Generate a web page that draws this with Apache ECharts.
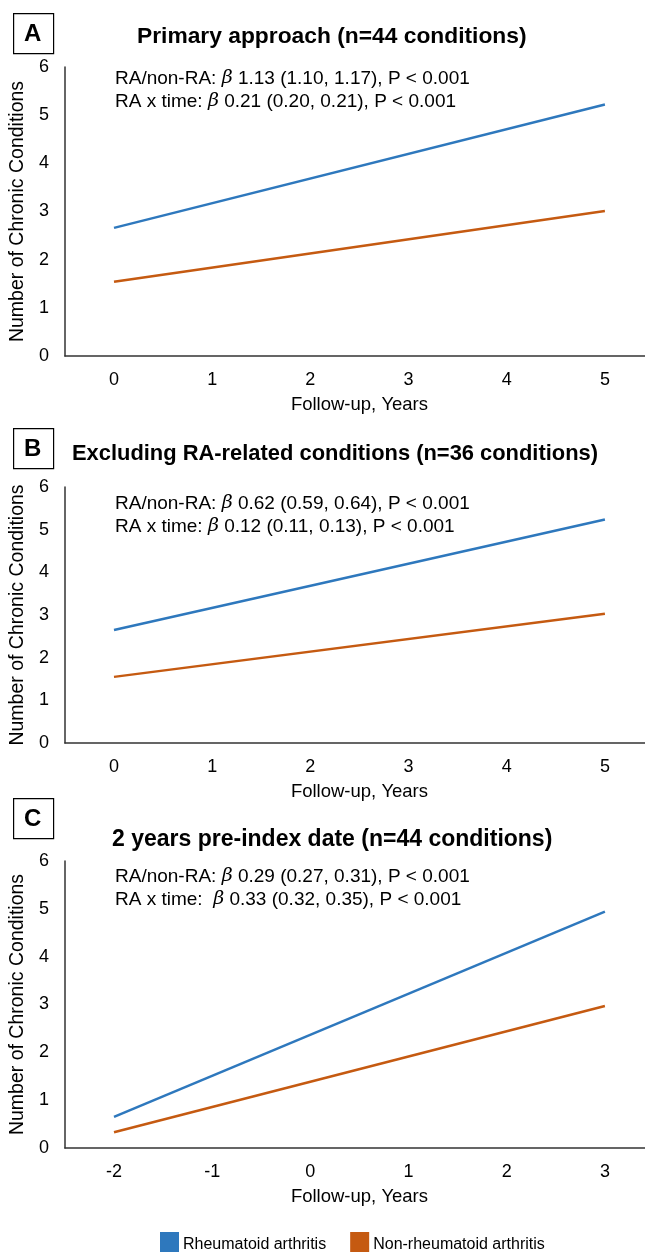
<!DOCTYPE html>
<html>
<head>
<meta charset="utf-8">
<script src="https://cdn.jsdelivr.net/npm/echarts@6/dist/echarts.min.js"></script>
<style>
  html, body { margin: 0; padding: 0; background: #fff; overflow: hidden; }
  #chart { width: 654px; height: 1252px; }
</style>
</head>
<body>
<div id="chart"></div>
<script>
// categories
var yearsAB = ['0', '1', '2', '3', '4', '5'];
var yearsC = ['-2', '-1', '0', '1', '2', '3'];

// predicted values (straight lines, endpoints)
var raA = [2.66, null, null, null, null, 5.22];
var nonA = [1.54, null, null, null, null, 3.01];
var raB = [2.65, null, null, null, null, 5.24];
var nonB = [1.55, null, null, null, null, 3.03];
var raC = [0.65, null, null, null, null, 4.94];
var nonC = [0.33, null, null, null, null, 2.97];

var panelTitles = [
  'Primary approach (n=44 conditions)',
  'Excluding RA-related conditions (n=36 conditions)',
  '2 years pre-index date (n=44 conditions)'
];
var notes = [
  'RA/non-RA: {b|β} 1.13 (1.10, 1.17), P < 0.001\nRA x time: {b|β} 0.21 (0.20, 0.21), P < 0.001',
  'RA/non-RA: {b|β} 0.62 (0.59, 0.64), P < 0.001\nRA x time: {b|β} 0.12 (0.11, 0.13), P < 0.001',
  'RA/non-RA: {b|β} 0.29 (0.27, 0.31), P < 0.001\nRA x time:  {b|β} 0.33 (0.32, 0.35), P < 0.001'
];

var FONT = '"Liberation Sans", Arial, sans-serif';
var BLUE = '#2E78BD';
var ORANGE = '#C55A11';

var grids = [
  {left: 63, right: 0, top: 67, height: 289},
  {left: 63, right: 0, top: 487, height: 256},
  {left: 63, right: 0, top: 861, height: 287}
];

function xAxisFor(idx, cats) {
  return {
    type: 'category', gridIndex: idx, data: cats,
    name: 'Follow-up, Years', nameLocation: 'middle', nameGap: 39,
    nameTextStyle: {color: '#000', fontSize: 18.5, fontFamily: FONT},
    axisLine: {lineStyle: {color: '#333', width: 1.5}},
    axisTick: {show: false},
    axisLabel: {color: '#000', fontSize: 18, fontFamily: FONT, margin: 15},
    splitLine: {show: false}
  };
}
function yAxisFor(idx) {
  return {
    type: 'value', gridIndex: idx, min: 0, max: 6, interval: 1,
    name: 'Number of Chronic Conditions', nameLocation: 'middle', nameGap: 30, nameRotate: 90,
    nameTextStyle: {color: '#000', fontSize: 19.5, fontFamily: FONT},
    axisLine: {show: true, lineStyle: {color: '#333', width: 1.5}},
    axisTick: {show: false},
    axisLabel: {color: '#000', fontSize: 18, fontFamily: FONT, margin: 16},
    splitLine: {show: false}
  };
}
function lineSeries(name, idx, data, color) {
  return {
    name: name, type: 'line', xAxisIndex: idx, yAxisIndex: idx,
    data: data, connectNulls: true, showSymbol: false, symbol: 'none',
    lineStyle: {color: color, width: 2.5}, itemStyle: {color: color},
    silent: true, animation: false
  };
}

var titleTops = [25, 443, 828];
var titleLefts = [137, 72, 112];
var titleSizes = [22.8, 21.9, 23];
var noteTops = [67, 492, 865];
var boxTops = [13, 428, 798];

var titles = [];
var graphics = [];
for (var i = 0; i < 3; i++) {
  titles.push({
    text: panelTitles[i], left: titleLefts[i], top: titleTops[i], padding: 0,
    textStyle: {fontSize: titleSizes[i], fontWeight: 'bold', color: '#000', fontFamily: FONT}
  });
  titles.push({
    text: notes[i], left: 115, top: noteTops[i], padding: 0,
    textStyle: {fontSize: 19, fontWeight: 'normal', color: '#000', fontFamily: FONT, lineHeight: 23,
      rich: {b: {fontStyle: 'italic', fontSize: 19, fontFamily: 'DejaVu Serif, serif', lineHeight: 23}}}
  });
  graphics.push({
    type: 'rect', left: 13, top: boxTops[i],
    shape: {width: 40, height: 40},
    style: {fill: '#fff', stroke: '#000', lineWidth: 1.2}
  });
  graphics.push({
    type: 'text', left: 24, top: boxTops[i] + 9,
    style: {text: ['A', 'B', 'C'][i], fontSize: 24, fontWeight: 'bold', fill: '#000', fontFamily: FONT}
  });
}

var myChart = echarts.init(document.getElementById('chart'));
myChart.setOption({
  animation: false,
  title: titles,
  graphic: graphics,
  legend: {
    data: ['Rheumatoid arthritis', 'Non-rheumatoid arthritis'],
    left: 155, top: 1227, icon: 'rect', itemWidth: 19, itemHeight: 25, itemGap: 24,
    textStyle: {fontSize: 16, color: '#000', fontFamily: FONT, padding: [0, 0, 6, -1]}
  },
  grid: grids,
  xAxis: [xAxisFor(0, yearsAB), xAxisFor(1, yearsAB), xAxisFor(2, yearsC)],
  yAxis: [yAxisFor(0), yAxisFor(1), yAxisFor(2)],
  series: [
    lineSeries('Rheumatoid arthritis', 0, raA, BLUE),
    lineSeries('Non-rheumatoid arthritis', 0, nonA, ORANGE),
    lineSeries('Rheumatoid arthritis', 1, raB, BLUE),
    lineSeries('Non-rheumatoid arthritis', 1, nonB, ORANGE),
    lineSeries('Rheumatoid arthritis', 2, raC, BLUE),
    lineSeries('Non-rheumatoid arthritis', 2, nonC, ORANGE)
  ]
});
</script>
</body>
</html>
